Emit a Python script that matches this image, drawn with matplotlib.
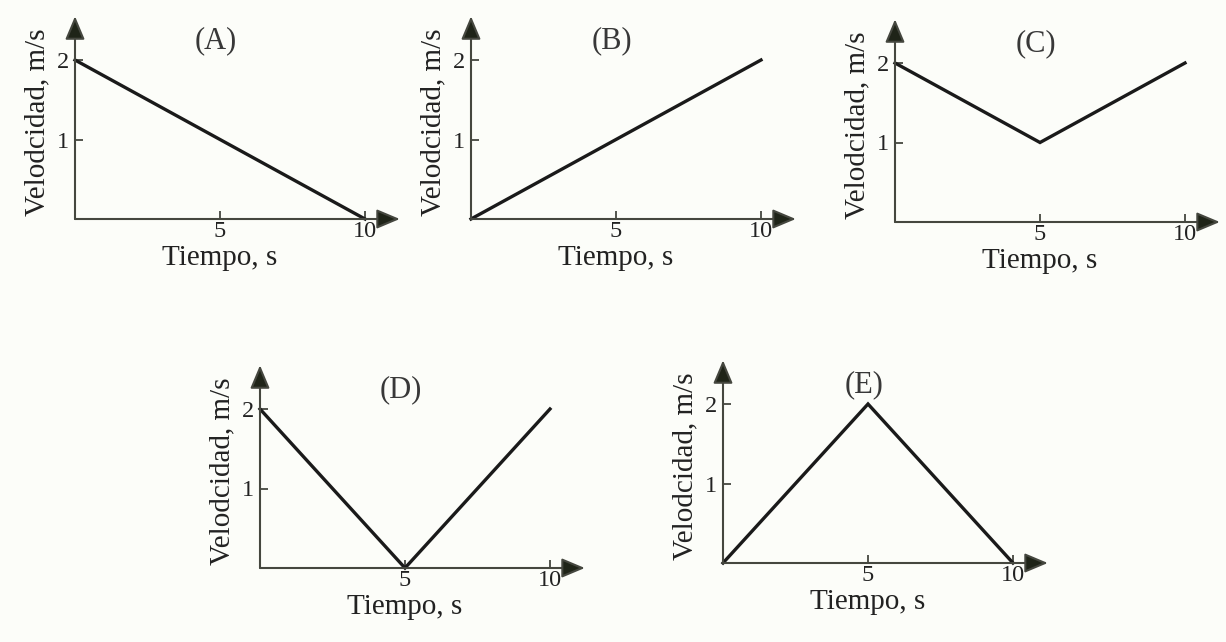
import matplotlib.pyplot as plt

# datos de cada grafica (tiempo en s, velocidad en m/s)
panel_names = ["(A)", "(B)", "(C)", "(D)", "(E)"]
t_A = [0, 10]
v_A = [2, 0]
t_B = [0, 10]
v_B = [0, 2]
t_C = [0, 5, 10]
v_C = [2, 1, 2]
t_D = [0, 5, 10]
v_D = [2, 0, 2]
t_E = [0, 5, 10]
v_E = [0, 2, 0]

x_ticks = [5, 10]
y_ticks = [1, 2]
x_label = "Tiempo, s"
y_label = "Velodcidad, m/s"

series = [(t_A, v_A), (t_B, v_B), (t_C, v_C), (t_D, v_D), (t_E, v_E)]

# origen de cada panel en pixeles (x, y desde arriba)
origins = [(75, 219), (471, 219), (895, 222), (260, 568), (723, 563)]

W, H = 1226, 642
SX, SY = 29.0, 79.5     # px por unidad
XMAX, YMAX = 11.2, 2.55

AXIS_COL = "#45473f"
HEAD_COL = "#1f2418"
LINE_COL = "#1a1a1a"
TXT_COL = "#222222"
BG = "#fcfdf9"

plt.rcParams["font.family"] = ["Liberation Serif", "DejaVu Serif"]

fig = plt.figure(figsize=(W / 100, H / 100), dpi=100)
fig.patch.set_facecolor(BG)

aw, ah = XMAX * SX, YMAX * SY
arrow_style = "-|>,head_length=0.95,head_width=0.4"

for name, (t, v), (ox, oy) in zip(panel_names, series, origins):
    ax = fig.add_axes([ox / W, (H - oy) / H, aw / W, ah / H])
    ax.set_facecolor("none")
    ax.set_xlim(0, XMAX)
    ax.set_ylim(0, YMAX)
    for s in ax.spines.values():
        s.set_visible(False)

    # ejes con flecha
    for tip in [(1, 0), (0, 1)]:
        ax.annotate("", xy=tip, xytext=(0, 0), xycoords="axes fraction",
                    arrowprops=dict(arrowstyle=arrow_style, mutation_scale=15,
                                    ec=AXIS_COL, fc=HEAD_COL, lw=1.5,
                                    shrinkA=0, shrinkB=0))

    ax.plot(t, v, color=LINE_COL, lw=2.4, solid_joinstyle="miter", clip_on=False)

    ax.set_xticks(x_ticks)
    ax.set_yticks(y_ticks)
    ax.tick_params(axis="both", direction="in", length=6, width=1.3,
                   color=AXIS_COL, labelsize=17.5, labelcolor=TXT_COL)
    ax.tick_params(axis="x", pad=1.5)
    ax.tick_params(axis="y", pad=4)

    ax.set_xlabel(x_label, fontsize=21, color=TXT_COL, va="center")
    ax.xaxis.set_label_coords(145 / aw, -39 / ah)
    ax.set_ylabel(y_label, fontsize=21, color=TXT_COL, va="center")
    ax.yaxis.set_label_coords(-38 / aw, 97 / ah)

    ax.text(141 / aw, 178 / ah, name, transform=ax.transAxes, ha="center",
            va="center", fontsize=22, color="#383838")

fig.savefig("out.png", dpi=100, facecolor=BG)
